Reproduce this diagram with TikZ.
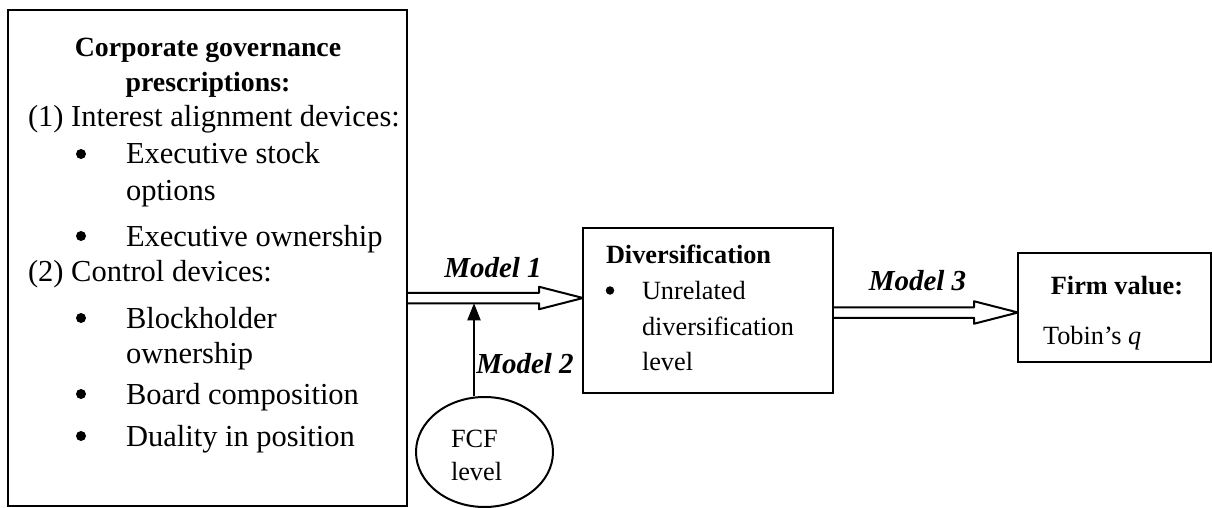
\documentclass[tikz,border=0pt]{standalone}
\usepackage{fontspec}
\setmainfont{Liberation Serif}
\usetikzlibrary{arrows.meta, calc, shapes.geometric}

\newcommand{\leftsize}{\fontsize{30.5}{36}\selectfont}
\newcommand{\titlesize}{\fontsize{27.8}{34}\selectfont}
\newcommand{\rightsize}{\fontsize{26.3}{36}\selectfont}
\newcommand{\modelsize}{\fontsize{29}{34}\selectfont}
\newcommand{\fatarrow}[2]{%
  \draw[fat] let \p1=(#1), \p2=(#2) in
    (\x1,\y2+5.25pt) -- (\x2-44pt,\y2+5.25pt) -- (\x2-44pt,\y2+11.25pt) -- (\x2,\y2)
    -- (\x2-44pt,\y2-11.25pt) -- (\x2-44pt,\y2-5.25pt) -- (\x1,\y2-5.25pt);}

\begin{document}
\begin{tikzpicture}[x=1pt, y=-1pt, line width=2pt,
    box/.style={draw, rectangle, inner sep=0, outer sep=0},
    fat/.style={line width=2pt, line join=round},
    head/.style={inner sep=0, anchor=base, font=\titlesize\bfseries},
    ltxt/.style={inner sep=0, anchor=base west, font=\leftsize},
    ldot/.style={circle, fill, inner sep=0, minimum size=10pt, yshift=10pt},
    rtxt/.style={inner sep=0, anchor=base west, font=\rightsize},
    rdot/.style={circle, fill, inner sep=0, minimum size=8.5pt, yshift=8.5pt},
    rhead/.style={inner sep=0, anchor=base, font=\rightsize\bfseries},
    mlabel/.style={inner sep=0, anchor=base, font=\modelsize\bfseries\itshape}]
  \useasboundingbox (0,0) rectangle (1212,508);

  % boxes
  \node[box, minimum width=399pt, minimum height=496pt] (gov) at (207.5,258) {};
  \node[box, minimum width=250pt, minimum height=165pt] (div) at (708,310.5) {};
  \node[box, minimum width=193pt, minimum height=109pt] (firm) at (1114.5,307.5) {};
  \node[draw, ellipse, minimum width=137pt, minimum height=110pt, inner sep=0] (fcf) at (484.5,452) {};

  % governance text
  \node[head] (govt1) at (208,57) {Corporate governance};
  \node[head] (govt2) at (208,92) {prescriptions:};
  \node[ltxt] (grp1) at (27,127) {(1) Interest alignment devices:};
  \node[ltxt] (grp2) at (27,281) {(2) Control devices:};
  \foreach \y in {164,246,328,404,446} {\node[ldot] (dot\y) at (81,\y) {};}
  \foreach \y/\t in {164/Executive stock, 200/options, 246/Executive ownership, 328/Blockholder, 363/ownership, 404/Board composition, 446/Duality in position} {\node[ltxt] (item\y) at (125,\y) {\t};}

  % diversification, firm value, fcf
  \node[rtxt, font=\rightsize\bfseries] (divt) at (605,263) {Diversification};
  \node[rdot] (divdot) at (610,299) {};
  \foreach \y/\t in {299/Unrelated, 335/diversification, 370/level} {\node[rtxt] (div\y) at (641,\y) {\t};}
  \node[rhead] (firmt) at (1117,294) {Firm value:};
  \node[rtxt] (tobin) at (1042,344) {Tobin’s \textit{q}};
  \node[rtxt] (fcf1) at (450,447) {FCF};
  \node[rtxt] (fcf2) at (450,480) {level};

  % arrows
  \coordinate (m1tip) at ([yshift=12.5pt]div.west);
  \coordinate (m3tip) at ([yshift=-5pt]firm.west);
  \coordinate (m2foot) at ([xshift=-10.5pt]fcf.north);
  \coordinate (m2tip) at ($(m2foot |- m1tip)+(0,5.25)$);
  \fatarrow{gov.east}{m1tip}
  \fatarrow{div.east}{m3tip}
  \draw[-{Triangle[length=17pt,width=13pt]}] (m2foot) -- (m2tip);

  \node[mlabel] (m1lbl) at (493,277) {Model 1};
  \node[mlabel] (m2lbl) at (525,373) {Model 2};
  \node[mlabel] (m3lbl) at (917.5,290) {Model 3};
\end{tikzpicture}
\end{document}
